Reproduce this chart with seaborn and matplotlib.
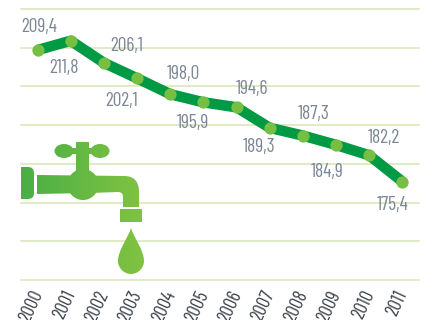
import numpy as np
import pandas as pd
import matplotlib
matplotlib.use("Agg")
import matplotlib.pyplot as plt
from matplotlib.patches import PathPatch
from matplotlib.path import Path
from matplotlib.transforms import Affine2D, ScaledTranslation
import seaborn as sns

years = ["2000", "2001", "2002", "2003", "2004", "2005",
         "2006", "2007", "2008", "2009", "2010", "2011"]
values = [209.4, 211.8, 206.1, 202.1, 198.0, 195.9,
          194.6, 189.3, 187.3, 184.9, 182.2, 175.4]
labels = ["209,4", "211,8", "206,1", "202,1", "198,0", "195,9",
          "194,6", "189,3", "187,3", "184,9", "182,2", "175,4"]
grid_values = [150, 160, 170, 180, 190, 200, 210, 220]

# label placement relative to each point, in pixels
label_dx = [1.4, -6.8, 23, -16, 12.7, -10.5, 15.4, -10.8, 11, -9, 14.7, -9.5]
label_dy = [23, -27.3, 17, -22.6, 20.4, -20.5, 18.5, -19, 21.7, -27, 17, -23]

W, H = 437, 320
LINE = "#009A44"
DOT = "#76BF43"
GRID = "#DDE8BF"
TXT = "#7C8795"
TICK = "#3A4048"
FONT = ["Barlow Condensed", "Liberation Sans", "DejaVu Sans"]

sns.set_theme(style="white")
plt.rcParams["font.family"] = FONT

fig = plt.figure(figsize=(W / 100, H / 100), dpi=100)
ax = fig.add_axes([21 / W, 1 - 280 / H, (419 - 21) / W, (280 - 9) / H])
df = pd.DataFrame({"year": years, "value": values})

for g in grid_values:
    ax.axhline(g, color=GRID, lw=1.3, zorder=1, clip_on=False)

sns.lineplot(data=df, x="year", y="value", sort=False, color=LINE, lw=7.6,
             solid_capstyle="butt", solid_joinstyle="round", ax=ax, zorder=3)
sns.scatterplot(data=df, x="year", y="value", color=DOT, s=78, linewidth=0,
                ax=ax, zorder=4)

ax.set_xlim(-0.5, 11.5)
ax.set_ylim(150, 220)
ax.set_xlabel("")
ax.set_ylabel("")
ax.set_yticks([])
sns.despine(ax=ax, left=True, bottom=True)
ax.tick_params(axis="x", length=0, pad=8.5)
shift = ScaledTranslation(0.5 / 100, 0, fig.dpi_scale_trans)
for t in ax.get_xticklabels():
    t.set(rotation=65, ha="right", va="center", fontsize=13.5, color=TICK,
          fontweight=400, rotation_mode="anchor")
    t.set_transform(t.get_transform() + shift)

for i, (v, lab) in enumerate(zip(values, labels)):
    ax.annotate(lab, (i, v), xytext=(label_dx[i], label_dy[i]),
                textcoords="offset pixels", ha="center", va="center",
                fontsize=14, color=TXT, zorder=5)

# faucet illustration, drawn in pixel coordinates with a soft gradient
ov = fig.add_axes([0, 0, 1, 1], facecolor="none")
grad = np.linspace(0, 1, 256).reshape(1, -1)
cmap = matplotlib.colors.LinearSegmentedColormap.from_list("g", ["#49AE47", "#82C341"])

M, L, C3, C4, Z = Path.MOVETO, Path.LINETO, Path.CURVE3, Path.CURVE4, Path.CLOSEPOLY
parts = []


def shape(items):
    parts.append(Path([pt for _, pt in items], [cd for cd, _ in items]))


def oval(cx, cy, rx, ry):
    parts.append(Path.unit_circle().transformed(Affine2D().scale(rx, ry).translate(cx, cy)))


# wall flange
shape([(M, (21, 167)), (L, (28, 167)), (C3, (34, 167)), (C3, (34, 173)), (L, (34, 193)),
       (C3, (34, 199)), (C3, (28, 199)), (L, (21, 199)), (Z, (21, 167))])
# pipe and spout
shape([(M, (37, 175)), (L, (124, 176)), (C3, (139, 176)), (C3, (139, 192)), (L, (139, 207)),
       (L, (123, 207)), (L, (123, 197)), (C3, (123, 192)), (C3, (118, 192)), (L, (90, 193)),
       (L, (37, 194)), (Z, (37, 175))])
# hub
oval(83, 184.5, 15.5, 15.5)
# stem
shape([(M, (76, 142)), (L, (89, 142)), (L, (89, 172)), (L, (76, 172)), (Z, (76, 142))])
# handle
oval(64, 151, 9.5, 7)
oval(100, 151, 9.5, 7)
shape([(M, (66, 148)), (L, (98, 148)), (L, (98, 154)), (L, (66, 154)), (Z, (66, 148))])
# nozzle
shape([(M, (120, 209)), (L, (142, 209)), (L, (142, 222)), (L, (120, 222)), (Z, (120, 209))])
# drop
shape([(M, (131, 228)), (C4, (128, 238)), (C4, (118, 250)), (C4, (118, 261)),
       (C4, (118, 268)), (C4, (124, 274)), (C4, (131, 274)),
       (C4, (138, 274)), (C4, (144, 268)), (C4, (144, 261)),
       (C4, (144, 250)), (C4, (134, 238)), (C4, (131, 228)), (Z, (131, 228))])

for part in parts:
    layer = ov.imshow(grad, extent=(20, 145, 276, 140), cmap=cmap, aspect="auto", zorder=6)
    clip = PathPatch(part, transform=ov.transData, fc="none", ec="none")
    ov.add_patch(clip)
    layer.set_clip_path(clip)
ov.set_xlim(0, W)
ov.set_ylim(H, 0)
ov.axis("off")

fig.savefig("out.png", dpi=100)
